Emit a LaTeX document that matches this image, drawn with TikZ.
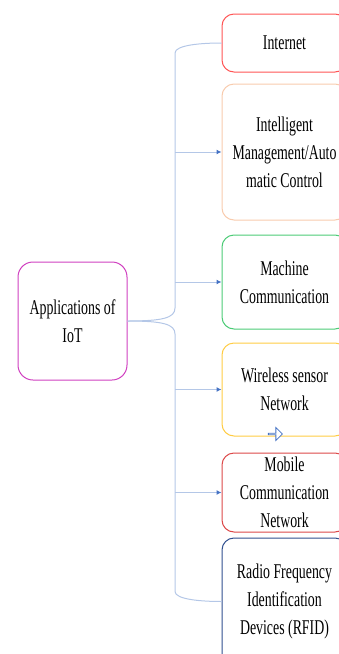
\documentclass[tikz,border=0pt]{standalone}
\usepackage{fontspec}
\usetikzlibrary{positioning,shapes,arrows.meta,calc}
\newfontfamily\boxfont[FakeStretch=0.66]{Liberation Serif}
\definecolor{inetred}{HTML}{FF5555}
\definecolor{peach}{HTML}{F8CBAD}
\definecolor{mgreen}{HTML}{4CCB76}
\definecolor{gold}{HTML}{FFCC44}
\definecolor{mobred}{HTML}{DC4848}
\definecolor{navy}{HTML}{2F4F8F}
\definecolor{magent}{HTML}{D040C0}
\definecolor{trunkblue}{HTML}{B4C7E7}
\definecolor{tipblue}{HTML}{4472C4}
\tikzstyle{app}=[draw,rounded corners=12pt,line width=1pt,minimum width=125pt,
  align=center,font=\boxfont\fontsize{21}{28}\selectfont]
\newcommand{\newApp}[5]{\node[app,draw=#3,minimum height=#4,#5](#1){#2};}
\newcommand{\newBranch}[1]{\draw[branch] (bus |- #1.west) -- (#1.west);}

\begin{document}
\begin{tikzpicture}[x=1pt,y=1pt,
        >={Latex[length=5pt,width=5pt,color=tipblue]},
        link/.style={draw=trunkblue,line width=1pt},
        branch/.style={link,->},
        hint/.style={single arrow,draw=tipblue,fill=white,line width=0.8pt,
          minimum height=14pt,minimum width=13pt,single arrow head extend=3pt,inner sep=0pt}
        ]
        \useasboundingbox (0,0) rectangle (339,-654);
        \node[app,draw=magent,rounded corners=15pt,minimum width=109pt,minimum height=118pt]
          (apps) at (72.5,-321) {Applications of\\IoT};
        \coordinate (bus) at (175,-321);
        % right column, top to bottom
        \node[app,draw=inetred,minimum height=58pt] (internet) at (284.5,-43) {Internet};
        \newApp{intel}{Intelligent\\Management/Auto\\matic Control}{peach}{136pt}{below=11pt of internet}
        \newApp{machine}{Machine\\Communication}{mgreen}{94pt}{below=14pt of intel}
        \newApp{wireless}{Wireless sensor\\Network}{gold}{93pt}{below=13pt of machine}
        \newApp{mobile}{Mobile\\Communication\\Network}{mobred}{79pt}{below=16pt of wireless}
        \newApp{rfid}{Radio Frequency\\Identification\\Devices (RFID)}{navy}{127pt}{below=5pt of mobile}
        \node[hint] (hint) at (275,-434) {};
        % brace
        \draw[link] (apps.east) .. controls +(35,0) and +(0,-10) .. ($(bus)+(0,13)$)
          -- ($(bus |- internet.west)+(0,-10)$) .. controls +(0,8) and +(-20,0) .. (internet.west);
        \draw[link] (apps.east) .. controls +(35,0) and +(0,10) .. ($(bus)+(0,-13)$)
          -- ($(bus |- rfid.west)+(0,10)$) .. controls +(0,-8) and +(-20,0) .. (rfid.west);
        \newBranch{intel}
        \newBranch{machine}
        \newBranch{wireless}
        \newBranch{mobile}
\end{tikzpicture}
\end{document}
